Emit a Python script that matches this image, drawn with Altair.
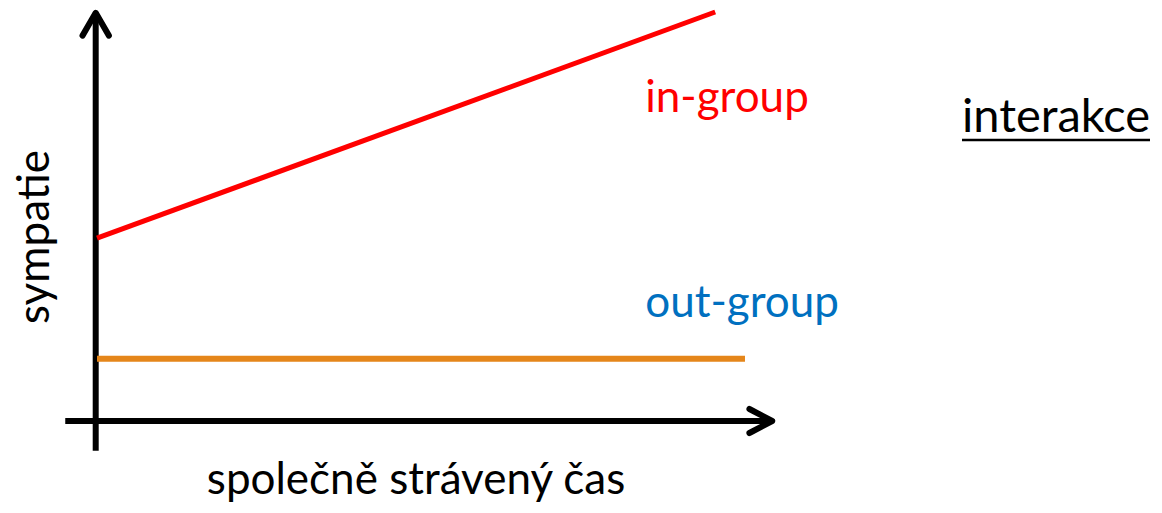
import altair as alt
import pandas as pd

# abstract units: time (x) and sympathy (y)
in_time = [0.0, 9.54]
in_symp = [4.47, 10.0]
out_time = [0.0, 10.0]
out_symp = [1.52, 1.52]
xaxis_time = [-0.49, 10.42]
xaxis_symp = [0.0, 0.0]
yaxis_time = [-0.02, -0.02]
yaxis_symp = [-0.73, 9.98]

labels_text = ["in-group", "out-group"]
labels_color = ["#FF0000", "#0070C0"]
labels_time = [8.46, 8.46]
labels_symp = [7.55, 2.54]

W, H = 1146, 497
xs = alt.Scale(domain=[-1.3735, 16.312], zero=False, nice=False)
ys = alt.Scale(domain=[-2.054, 10.098], zero=False, nice=False)
FONT = "Lato"


def seg(t, s, color, width):
    df = pd.DataFrame({"t": t, "s": s, "o": list(range(len(t)))})
    return alt.Chart(df).mark_line(color=color, strokeWidth=width, strokeCap="butt", clip=False).encode(
        x=alt.X("t:Q", scale=xs, axis=None),
        y=alt.Y("s:Q", scale=ys, axis=None),
        order="o:O",
    )


red = seg(in_time, in_symp, "#FF0000", 5)
orange = seg(out_time, out_symp, "#E5861A", 6)
xaxis = seg(xaxis_time, xaxis_symp, "#000000", 6)
yaxis = seg(yaxis_time, yaxis_symp, "#000000", 6)

up_head = alt.Chart(pd.DataFrame({"t": [yaxis_time[1]], "s": [yaxis_symp[1]]})).mark_point(
    shape="M -0.55 0.95 L 0 0 L 0.55 0.95", size=2304, filled=False, stroke="#000000",
    strokeWidth=6, strokeCap="round", strokeJoin="round", opacity=1, clip=False
).encode(x=alt.X("t:Q", scale=xs, axis=None), y=alt.Y("s:Q", scale=ys, axis=None))

right_head = alt.Chart(pd.DataFrame({"t": [xaxis_time[1]], "s": [xaxis_symp[1]]})).mark_point(
    shape="M -0.95 -0.5 L 0 0 L -0.95 0.5", size=2304, filled=False, stroke="#000000",
    strokeWidth=6, strokeCap="round", strokeJoin="round", opacity=1, clip=False
).encode(x=alt.X("t:Q", scale=xs, axis=None), y=alt.Y("s:Q", scale=ys, axis=None))

lab_df = pd.DataFrame({"text": labels_text, "color": labels_color, "t": labels_time, "s": labels_symp})
labels = alt.Chart(lab_df).mark_text(font=FONT, fontSize=44, align="left", baseline="alphabetic").encode(
    x=alt.X("t:Q", scale=xs, axis=None),
    y=alt.Y("s:Q", scale=ys, axis=None),
    text="text:N",
    color=alt.Color("color:N", scale=None),
)

interakce = alt.Chart(pd.DataFrame({"text": ["interakce"]})).mark_text(
    font=FONT, fontSize=47, align="left", baseline="alphabetic", color="#000000"
).encode(x=alt.value(954), y=alt.value(124), text="text:N")

underline = alt.Chart(pd.DataFrame({"a": [0]})).mark_rule(color="#000000", strokeWidth=2.5).encode(
    x=alt.value(954), x2=alt.value(1142), y=alt.value(132)
)

ytitle = alt.Chart(pd.DataFrame({"text": ["sympatie"]})).mark_text(
    font=FONT, fontSize=44, align="center", baseline="middle", angle=270, color="#000000"
).encode(x=alt.value(28), y=alt.value(229), text="text:N")

xtitle = alt.Chart(pd.DataFrame({"text": ["společně strávený čas"]})).mark_text(
    font=FONT, fontSize=44, align="center", baseline="alphabetic", color="#000000"
).encode(x=alt.value(408), y=alt.value(486), text="text:N")

chart = alt.layer(
    xaxis, yaxis, up_head, right_head, red, orange, labels, interakce, underline, ytitle, xtitle
).properties(
    width=W, height=H, padding=0, background="#FFFFFF", autosize=alt.AutoSizeParams(type="none")
).configure_view(strokeWidth=0, stroke="transparent")

chart.save("out.html", embed_options={"renderer": "svg", "actions": False})
